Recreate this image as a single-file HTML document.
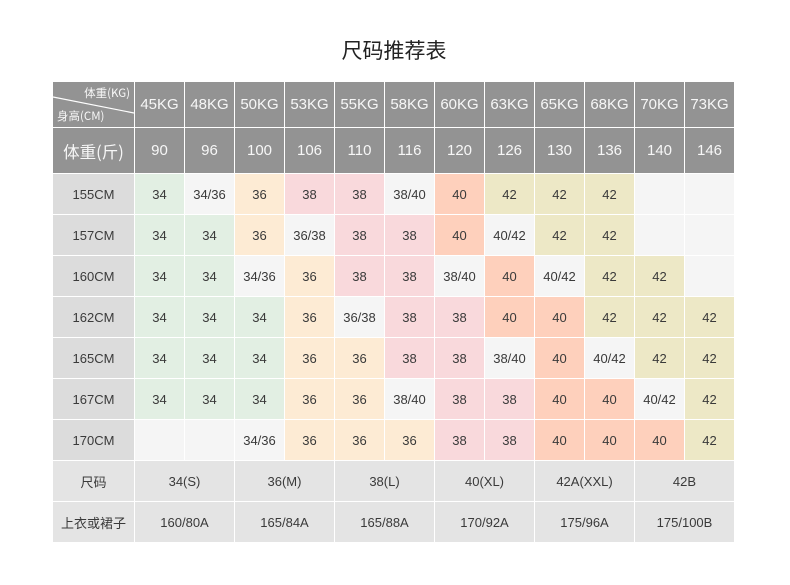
<!DOCTYPE html>
<html><head><meta charset="utf-8"><style>
html,body{margin:0;padding:0;background:#fff;}
body{width:790px;height:585px;position:relative;overflow:hidden;font-family:"Liberation Sans","Noto Sans CJK SC",sans-serif;}
.title{position:absolute;left:0;width:788px;top:36px;text-align:center;font-size:21px;color:#222;line-height:28px;font-family:"Noto Sans CJK SC",sans-serif;}
.grid{position:absolute;left:53px;top:82px;display:grid;grid-template-columns:81px repeat(12,49px);grid-template-rows:45px 45px repeat(9,40px);gap:1px;background:#fff;width:681px;height:460px;}
.grid div{display:flex;align-items:center;justify-content:center;font-size:13px;color:#3a3a3a;}
.h{background:#939393;color:#f7f7f7 !important;font-size:15px !important;}
.h2{font-size:16.5px !important;}
.l{background:#dcdcdc;}
.b{background:#e4e4e4;grid-column:span 2;}
.bl{background:#e4e4e4;}
.G{background:#e2efe3;}.W{background:#f5f5f5;}.P{background:#fdebd4;}.K{background:#f9d9dc;}.O{background:#fed0bc;}.Y{background:#ede8c6;}
.corner{position:relative;}
.cjk{font-family:"Noto Sans CJK SC",sans-serif;}
</style></head><body>
<div class="title">尺码推荐表</div>
<div class="grid">
<div class="h corner" style="display:block"><svg width="81" height="45" style="position:absolute;left:0;top:0"><line x1="0" y1="15" x2="81" y2="31" stroke="#fff" stroke-width="1.2"/><text x="77" y="15" text-anchor="end" font-size="11.5" fill="#f7f7f7" font-family="Noto Sans CJK SC, sans-serif">体重(KG)</text><text x="4" y="38" font-size="11.5" fill="#f7f7f7" font-family="Noto Sans CJK SC, sans-serif">身高(CM)</text></svg></div>
<div class="h">45KG</div><div class="h">48KG</div><div class="h">50KG</div><div class="h">53KG</div><div class="h">55KG</div><div class="h">58KG</div><div class="h">60KG</div><div class="h">63KG</div><div class="h">65KG</div><div class="h">68KG</div><div class="h">70KG</div><div class="h">73KG</div>
<div class="h h2 cjk">体重(斤)</div>
<div class="h">90</div><div class="h">96</div><div class="h">100</div><div class="h">106</div><div class="h">110</div><div class="h">116</div><div class="h">120</div><div class="h">126</div><div class="h">130</div><div class="h">136</div><div class="h">140</div><div class="h">146</div>

<div class="l">155CM</div>
<div class="G">34</div><div class="W">34/36</div><div class="P">36</div><div class="K">38</div><div class="K">38</div><div class="W">38/40</div><div class="O">40</div><div class="Y">42</div><div class="Y">42</div><div class="Y">42</div><div class="W"></div><div class="W"></div>

<div class="l">157CM</div>
<div class="G">34</div><div class="G">34</div><div class="P">36</div><div class="W">36/38</div><div class="K">38</div><div class="K">38</div><div class="O">40</div><div class="W">40/42</div><div class="Y">42</div><div class="Y">42</div><div class="W"></div><div class="W"></div>

<div class="l">160CM</div>
<div class="G">34</div><div class="G">34</div><div class="W">34/36</div><div class="P">36</div><div class="K">38</div><div class="K">38</div><div class="W">38/40</div><div class="O">40</div><div class="W">40/42</div><div class="Y">42</div><div class="Y">42</div><div class="W"></div>

<div class="l">162CM</div>
<div class="G">34</div><div class="G">34</div><div class="G">34</div><div class="P">36</div><div class="W">36/38</div><div class="K">38</div><div class="K">38</div><div class="O">40</div><div class="O">40</div><div class="Y">42</div><div class="Y">42</div><div class="Y">42</div>

<div class="l">165CM</div>
<div class="G">34</div><div class="G">34</div><div class="G">34</div><div class="P">36</div><div class="P">36</div><div class="K">38</div><div class="K">38</div><div class="W">38/40</div><div class="O">40</div><div class="W">40/42</div><div class="Y">42</div><div class="Y">42</div>

<div class="l">167CM</div>
<div class="G">34</div><div class="G">34</div><div class="G">34</div><div class="P">36</div><div class="P">36</div><div class="W">38/40</div><div class="K">38</div><div class="K">38</div><div class="O">40</div><div class="O">40</div><div class="W">40/42</div><div class="Y">42</div>

<div class="l">170CM</div>
<div class="W"></div><div class="W"></div><div class="W">34/36</div><div class="P">36</div><div class="P">36</div><div class="P">36</div><div class="K">38</div><div class="K">38</div><div class="O">40</div><div class="O">40</div><div class="O">40</div><div class="Y">42</div>

<div class="bl cjk">尺码</div>
<div class="b">34(S)</div><div class="b">36(M)</div><div class="b">38(L)</div><div class="b">40(XL)</div><div class="b">42A(XXL)</div><div class="b">42B</div>

<div class="bl cjk">上衣或裙子</div>
<div class="b">160/80A</div><div class="b">165/84A</div><div class="b">165/88A</div><div class="b">170/92A</div><div class="b">175/96A</div><div class="b">175/100B</div>
</div>
</body></html>
